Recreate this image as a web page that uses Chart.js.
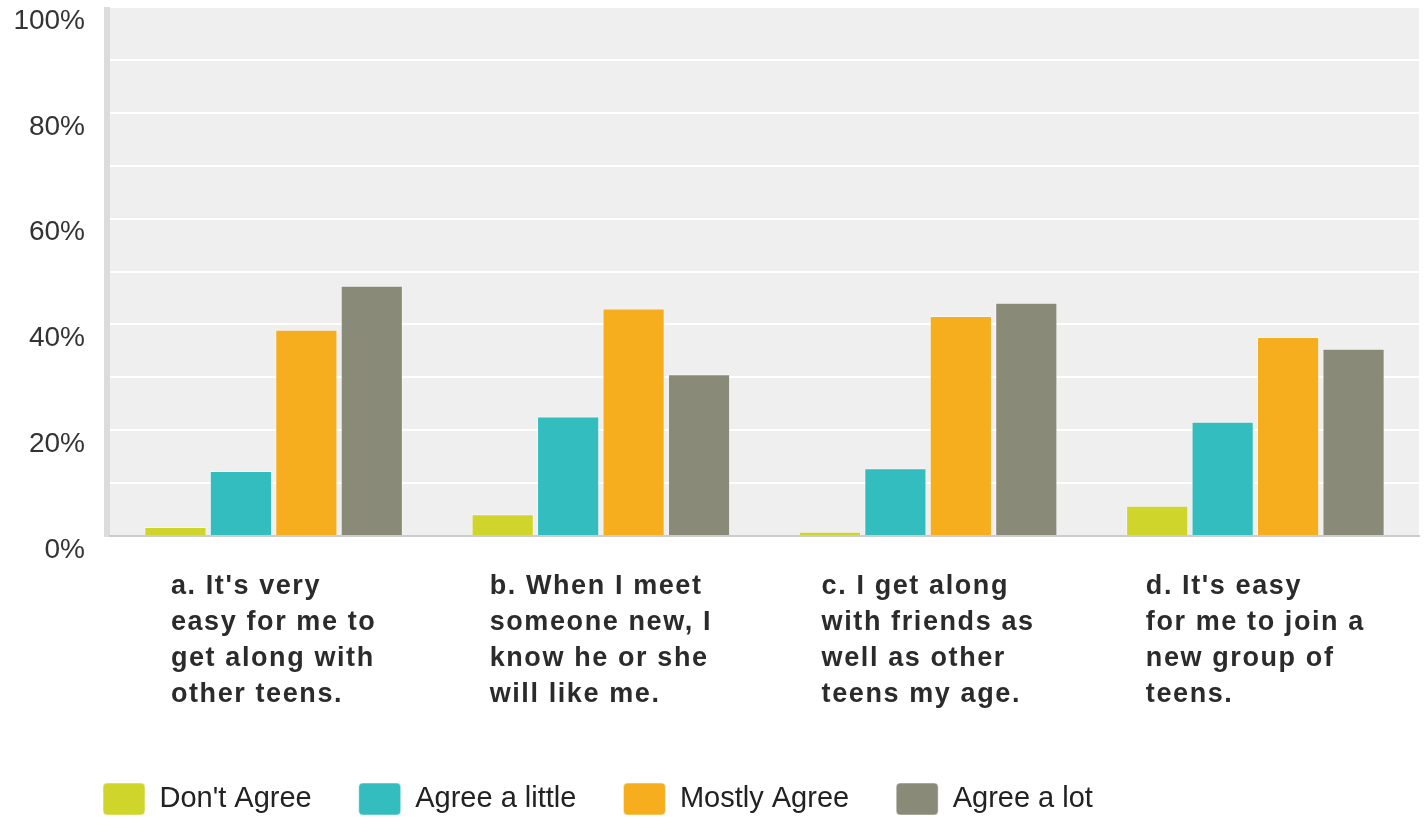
<!DOCTYPE html>
<html>
<head>
<meta charset="utf-8">
<script src="https://cdn.jsdelivr.net/npm/chart.js@4"></script>
<style>
  html, body { margin: 0; padding: 0; background: #ffffff; }
  #wrap { width: 1426px; height: 817px; position: relative; }
</style>
</head>
<body>
<div id="wrap"><canvas id="barChart"></canvas></div>
<script>
// Categories (each label split into lines as in the original)
const categories = [
    ["a. It's very", "easy for me to", "get along with", "other teens."],
    ["b. When I meet", "someone new, I", "know he or she", "will like me."],
    ["c. I get along", "with friends as", "well as other", "teens my age."],
    ["d. It's easy", "for me to join a", "new group of", "teens."]
];

// Series values (percent)
const dontAgree   = [1.7, 4.1, 0.8, 5.7];
const agreeLittle = [12.3, 22.6, 12.8, 21.6];
const mostlyAgree = [39.0, 43.0, 41.6, 37.6];
const agreeALot   = [47.3, 30.6, 44.1, 35.4];

const seriesNames = ["Don't Agree", "Agree a little", "Mostly Agree", "Agree a lot"];
const yTickLabels = ["0%", "20%", "40%", "60%", "80%", "100%"];

const FONT = "'Liberation Sans', Arial, sans-serif";

// Grey plot background and the darker strip on the left
const plotBackground = {
    id: "plotBackground",
    beforeDraw(chart) {
        const { ctx, chartArea: a } = chart;
        ctx.save();
        ctx.fillStyle = "#efefef";
        ctx.fillRect(a.left, a.top, a.right - a.left, a.bottom - a.top);
        ctx.fillStyle = "#dcdcdc";
        ctx.fillRect(a.left - 6, a.top, 6, a.bottom - a.top + 1);
        ctx.restore();
    }
};

// Category labels: block centred under the group, lines left aligned
const categoryLabels = {
    id: "categoryLabels",
    afterDraw(chart) {
        const { ctx } = chart;
        const xScale = chart.scales.x;
        ctx.save();
        ctx.font = "bold 27px " + FONT;
        ctx.letterSpacing = "1.6px";
        ctx.fillStyle = "#2b2b2b";
        ctx.textAlign = "left";
        ctx.textBaseline = "alphabetic";
        categories.forEach((lines, i) => {
            const cx = xScale.getPixelForValue(i);
            const w = Math.max(...lines.map(l => ctx.measureText(l).width));
            const x0 = cx - w / 2;
            lines.forEach((line, j) => {
                ctx.fillText(line, x0, xScale.top + 58 + j * 36);
            });
        });
        ctx.restore();
    }
};

// Move the legend to sit under the y axis like the original
const legendPlace = {
    id: "legendPlace",
    afterLayout(chart) {
        const pad = chart.options.plugins.legend.labels.padding;
        chart.legend.left = 103 - pad;
        chart.legend.top = 783 - pad;
    }
};

const chartData = {
    labels: categories,
    datasets: [
        { label: seriesNames[0], data: dontAgree,   backgroundColor: "#d0d52b" },
        { label: seriesNames[1], data: agreeLittle, backgroundColor: "#33bdbf" },
        { label: seriesNames[2], data: mostlyAgree, backgroundColor: "#f6ae1f" },
        { label: seriesNames[3], data: agreeALot,   backgroundColor: "#8a8a79" }
    ].map(ds => Object.assign(ds, {
        borderColor: "rgba(255,255,255,0.5)",
        borderWidth: 1,
        categoryPercentage: 0.8,
        barPercentage: 0.95
    }))
};

const config = {
    type: "bar",
    data: chartData,
    plugins: [plotBackground, categoryLabels, legendPlace],
    options: {
        responsive: true,
        maintainAspectRatio: false,
        animation: false,
        layout: { padding: { top: 7, right: 7, left: 0, bottom: 0 } },
        scales: {
            x: {
                grid: { display: false },
                border: { display: true, color: "#cccccc", width: 2 },
                ticks: { display: false },
                afterFit(scale) {
                    scale.height = 817 - 536 - scale.chart.legend.height;
                }
            },
            y: {
                min: 0,
                max: 100,
                grid: { color: "#ffffff", lineWidth: 2, drawTicks: false },
                border: { display: false },
                ticks: {
                    stepSize: 10,
                    padding: 25,
                    labelOffset: 14,
                    color: "#333333",
                    font: { family: FONT, size: 28 },
                    callback: v => (v % 20 === 0 ? yTickLabels[v / 20] : "")
                },
                afterFit(scale) {
                    scale.width = 110;
                    scale.paddingTop = 0;
                    scale.paddingBottom = 0;
                }
            }
        },
        plugins: {
            tooltip: { enabled: false },
            legend: {
                position: "bottom",
                align: "start",
                labels: {
                    boxWidth: 42,
                    boxHeight: 32,
                    padding: 47,
                    useBorderRadius: true,
                    borderRadius: 4,
                    color: "#222222",
                    font: { family: FONT, size: 29 }
                }
            }
        }
    }
};

const ctx = document.getElementById("barChart").getContext("2d");
new Chart(ctx, config);
</script>
</body>
</html>
